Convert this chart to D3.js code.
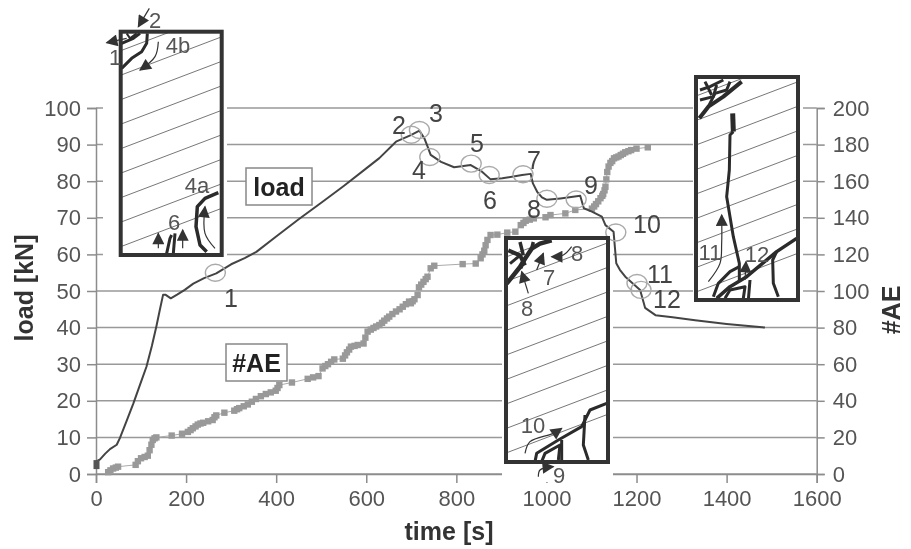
<!DOCTYPE html>
<html lang="en">
<head>
<meta charset="UTF-8">
<title>load and #AE over time</title>
<script src="https://d3js.org/d3.v7.min.js"></script>
<style>
  html, body { margin: 0; background: #fff; }
  svg { display: block; filter: blur(0.45px); font-family: "Liberation Sans", Arial, sans-serif; }
</style>
</head>
<body>
<svg id="chart" width="911" height="549"></svg>
<script>
// values
const loadTime = [0,3,9,20,31,46,53,68,83,98,112,124,134,142,149,154,166,180,197,216,240,267,300,330,356,400,450,500,550,600,629,666,699,718,729,736,743,766,795,832,857,876,902,946,965,970,980,990,1001,1031,1075,1083,1101,1123,1131,1149,1155,1163,1175,1208,1219,1242,1280,1330,1400,1485];
const loadValues = [3,3.6,4,5.5,6.8,8,9.8,14.5,19.3,24.5,29.3,35,40.3,45,49,49,48,49,50.3,52,53.5,54.8,57.3,59,60.7,64.9,69.6,74.1,78.7,83.5,86.3,90.8,92.6,93.8,91.7,89.5,87.2,85.3,83.8,84.4,82.6,80.5,80.8,81.7,82,79.4,77,75.6,74.9,75.3,76,72.6,71.7,70.3,68,66.2,57.6,55.8,53.9,50.3,45.4,43.4,42.8,42,41,40];

const aeTime = [27,32,38,44,49,88,93,100,108,115,119,123,126,130,134,168,191,204,210,215,221,226,232,238,249,259,263,267,285,307,313,318,328,337,346,355,366,377,388,399,403,407,435,470,482,494,503,509,515,522,529,548,553,557,562,566,574,581,594,598,603,610,616,622,629,635,640,646,651,658,666,674,681,688,695,699,703,707,714,717,722,727,732,736,743,751,814,843,854,858,862,865,869,876,891,913,931,943,949,954,963,972,998,1009,1042,1064,1101,1106,1110,1115,1120,1124,1126,1129,1131,1133,1135,1138,1142,1146,1150,1155,1160,1165,1170,1175,1182,1188,1200,1225];
const aeValues = [1,2,3,3.5,4,5,7,8.6,9.3,10,13,16,18.6,19.5,20,21,22,23,24,25,26,27,27.6,28,28.8,29.5,31,32,33.5,34.6,35.4,36,37,38,39.5,41,42.5,43.7,44.6,45.5,47,48.6,50,52,52.8,53.5,57.7,59,60,61.3,62.6,63,64.8,66.5,68,69.6,70,70.5,71.3,74.5,77.8,78.9,79.8,80.6,81.4,82.6,83.8,85,86,87.4,88.8,90,91.4,92.8,94.2,93.3,94.4,95.5,97.8,102,103.5,105,106.5,107.8,112.4,113.8,114.7,115,117.9,120,122,125,127.9,130.6,130.8,131.9,132.4,136,137.2,138.4,139,139.7,140.3,141.5,142.4,144.3,145,146.2,147.5,149,150.7,152,153,155,157,161,165,168,170,171,172.5,173,173.5,174.3,175,175.8,176.4,177,177.8,178.5,180,180.3];

const leftTicks = [0,10,20,30,40,50,60,70,80,90,100];
const rightTicks = [0,20,40,60,80,100,120,140,160,180,200];
const timeTicks = [0,200,400,600,800,1000,1200,1400,1600];

// circled events on the load curve: time, load
const eventTime = [265,700,718,741,833,873,948,1001,1066,1154,1201,1210];
const eventLoad = [55,92.7,94,86.6,84.8,81.7,81.9,75.2,75,66,52.2,50.3];

const svg = d3.select("#chart");
const x = d3.scaleLinear().domain([0, 1600]).range([96, 816.7]);
const yLeft = d3.scaleLinear().domain([0, 100]).range([474, 108]);
const yRight = d3.scaleLinear().domain([0, 200]).range([474, 108]);

const gray = "#8c8c8c", text = "#555", dark = "#333";

// gridlines
svg.append("g").selectAll("line").data(leftTicks).join("line")
  .attr("x1", x(0)).attr("x2", x(1600))
  .attr("y1", d => yLeft(d)).attr("y2", d => yLeft(d))
  .attr("stroke", "#999").attr("stroke-width", 1.5);

// axes
const axL = svg.append("g").attr("transform", `translate(${x(0)},0)`)
  .call(d3.axisLeft(yLeft).tickValues(leftTicks).tickSize(9).tickPadding(6));
const axR = svg.append("g").attr("transform", `translate(${x(1600)},0)`)
  .call(d3.axisRight(yRight).tickValues(rightTicks).tickSize(8).tickPadding(8));
const axB = svg.append("g").attr("transform", `translate(0,${yLeft(0)})`)
  .call(d3.axisBottom(x).tickValues(timeTicks).tickFormat(d3.format("d")).tickSize(9).tickPadding(7));
[axL, axR, axB].forEach(g => {
  g.selectAll(".domain").attr("stroke", gray).attr("stroke-width", 1.5);
  g.selectAll(".tick line").attr("stroke", gray).attr("stroke-width", 1.5);
  g.selectAll("text").attr("fill", text).attr("font-size", 22)
    .attr("font-family", "Liberation Sans, Arial, sans-serif");
});

// white panels behind the specimen sketches cut the gridlines
const panels = [[103, 22, 124, 241], [693, 70, 110, 237], [502, 232, 111, 250]];
svg.append("g").selectAll("rect").data(panels).join("rect")
  .attr("x", d => d[0]).attr("y", d => d[1]).attr("width", d => d[2]).attr("height", d => d[3])
  .attr("fill", "#fff");

// #AE series
const aePoints = aeTime.map((t, i) => [t, aeValues[i]]);
svg.append("path").datum(aePoints)
  .attr("fill", "none").attr("stroke", "#aaa").attr("stroke-width", 1)
  .attr("d", d3.line().x(d => x(d[0])).y(d => yRight(d[1])));
svg.append("g").selectAll("rect").data(aePoints).join("rect")
  .attr("x", d => x(d[0]) - 3.2).attr("y", d => yRight(d[1]) - 3.2)
  .attr("width", 6.4).attr("height", 6.4).attr("fill", "#999");

// load curve
const loadPoints = loadTime.map((t, i) => [t, loadValues[i]]);
svg.append("path").datum(loadPoints)
  .attr("fill", "none").attr("stroke", "#444").attr("stroke-width", 2).attr("stroke-linejoin", "round")
  .attr("d", d3.line().x(d => x(d[0])).y(d => yLeft(d[1])));
svg.append("rect").attr("x", x(0) - 2.5).attr("y", yLeft(3.8)).attr("width", 6).attr("height", 9).attr("fill", "#555");

// event circles
svg.append("g").selectAll("ellipse").data(eventTime).join("ellipse")
  .attr("cx", d => x(d))
  .attr("cy", (d, i) => yLeft(eventLoad[i]))
  .attr("rx", 10).attr("ry", 8.5)
  .attr("fill", "none").attr("stroke", "#aaa").attr("stroke-width", 1.4);

// arrowhead
svg.append("defs").append("marker").attr("id", "head")
  .attr("viewBox", "0 0 10 10").attr("refX", 9).attr("refY", 5)
  .attr("markerWidth", 14).attr("markerHeight", 12).attr("markerUnits", "userSpaceOnUse")
  .attr("orient", "auto")
  .append("path").attr("d", "M0,0L10,5L0,10Z").attr("fill", dark);

// sketches: coordinates are in 3x crop units from an origin
const sketchLine = d3.line().curve(d3.curveCatmullRom.alpha(0.5));
function sketch(ox, oy, rect, cracks, arrows) {
  const g = svg.append("g");
  const id = "clip" + ox;
  g.append("clipPath").attr("id", id).append("rect")
    .attr("x", rect[0]).attr("y", rect[1]).attr("width", rect[2]).attr("height", rect[3]);
  const hatch = g.append("g").attr("clip-path", `url(#${id})`);
  d3.range(9).forEach(i => {
    const yl = rect[1] + 19 + i * 24.5;
    hatch.append("line")
      .attr("x1", rect[0]).attr("x2", rect[0] + rect[2])
      .attr("y1", yl).attr("y2", yl - rect[2] * 0.38)
      .attr("stroke", "#777").attr("stroke-width", 1);
  });
  const toPage = p => p.map(d => [ox + d[0] / 3, oy + d[1] / 3]);
  cracks.forEach(c => {
    hatch.append("path")
      .attr("d", d3.line()(toPage(c.p)))
      .attr("fill", "none").attr("stroke", "#2b2b2b").attr("stroke-width", c.w).attr("stroke-linejoin", "round");
  });
  g.append("rect").attr("x", rect[0]).attr("y", rect[1]).attr("width", rect[2]).attr("height", rect[3])
    .attr("fill", "none").attr("stroke", dark).attr("stroke-width", 4);
  arrows.forEach(a => {
    g.append("path")
      .attr("d", sketchLine(toPage(a)))
      .attr("fill", "none").attr("stroke", dark).attr("stroke-width", 1.2)
      .attr("marker-end", "url(#head)");
  });
}

sketch(90, 0, [120.7, 31.7, 101, 223.3], [
  { w: 3, p: [[95,205],[125,175],[155,155],[170,130],[172,100]] },
  { w: 3, p: [[95,130],[130,115],[150,100]] },
  { w: 2, p: [[110,100],[120,115],[140,100]] },
  { w: 3.5, p: [[385,578],[345,595],[322,620],[318,680],[330,735],[350,755]] },
  { w: 3, p: [[230,760],[240,715],[245,705]] },
  { w: 3, p: [[250,760],[255,700]] }
], [
  [[110,115],[50,128]], [[178,25],[145,80]], [[205,125],[195,170],[150,210]],
  [[375,745],[345,700],[345,620]], [[205,745],[205,700]], [[278,745],[278,690]]
]);

sketch(680, 70, [696, 77, 102, 223], [
  { w: 4, p: [[58,145],[85,110],[130,80],[185,35]] },
  { w: 3, p: [[60,90],[100,80],[110,45]] },
  { w: 3, p: [[60,60],[90,50],[130,30]] },
  { w: 3, p: [[85,110],[105,70],[140,60],[150,35]] },
  { w: 3, p: [[75,35],[95,75]] },
  { w: 5, p: [[158,130],[160,185]] },
  { w: 3, p: [[160,185],[150,195],[148,300],[140,380],[160,500],[178,580],[178,635]] },
  { w: 3.5, p: [[350,505],[290,545],[200,620],[150,650],[110,685]] },
  { w: 3, p: [[290,545],[278,570],[280,640],[295,680]] },
  { w: 3, p: [[100,680],[115,640],[150,605],[178,590]] },
  { w: 3, p: [[135,685],[150,660],[195,650],[190,685]] },
  { w: 3, p: [[205,690],[210,630]] }
], [
  [[85,635],[120,580],[125,520],[125,435]], [[195,630],[198,575]]
]);

sketch(490, 225, [506, 238, 102, 224], [
  { w: 4.5, p: [[50,176],[90,126],[105,101],[125,71],[150,56],[185,46]] },
  { w: 4, p: [[55,76],[90,91],[105,121]] },
  { w: 3.5, p: [[90,51],[100,91]] },
  { w: 3.5, p: [[130,51],[125,71]] },
  { w: 3, p: [[60,116],[90,91]] },
  { w: 3.5, p: [[105,101],[92,130]] },
  { w: 3, p: [[350,535],[300,555],[275,605],[205,645],[140,685],[135,710]] },
  { w: 3, p: [[285,570],[280,660],[295,705]] },
  { w: 3, p: [[155,710],[165,685],[210,660],[205,705]] },
  { w: 3, p: [[215,705],[215,645]] }
], [
  [[115,205],[95,140]], [[140,135],[160,85]], [[245,65],[220,90],[185,95]],
  [[105,685],[120,650],[190,625],[215,610]], [[145,755],[150,735],[190,725]]
]);

// number labels
const numberLabels = ["1","2","3","4","5","6","7","8","9","10","11","12"];
const numberX = [231,399,436,419,477,490,534,534,591,647,660,667];
const numberY = [298,125,113,170,143,200,160,209,185,224,274,299];
svg.append("g").selectAll("text").data(numberLabels).join("text")
  .attr("x", (d, i) => numberX[i]).attr("y", (d, i) => numberY[i])
  .attr("text-anchor", "middle").attr("dominant-baseline", "central")
  .attr("font-size", 25).attr("fill", "#444").text(d => d);

const sketchLabels = ["1","2","4b","4a","6","11","12","8","7","8","10","9"];
const sketchX = [115,155,178,197,174,710,757,577,549,527,533,559];
const sketchY = [57,20,45,185,222,252,254,253,277,308,425,475];
svg.append("g").selectAll("text").data(sketchLabels).join("text")
  .attr("x", (d, i) => sketchX[i]).attr("y", (d, i) => sketchY[i])
  .attr("text-anchor", "middle").attr("dominant-baseline", "central")
  .attr("font-size", 22).attr("fill", "#555").text(d => d);

// boxed series names
function boxed(label, bx, by, bw, bh) {
  svg.append("rect").attr("x", bx).attr("y", by).attr("width", bw).attr("height", bh)
    .attr("fill", "#fff").attr("stroke", "#888").attr("stroke-width", 1.5);
  svg.append("text").attr("x", bx + bw / 2).attr("y", by + bh / 2)
    .attr("text-anchor", "middle").attr("dominant-baseline", "central")
    .attr("font-size", 25).attr("font-weight", "bold").attr("fill", "#222").text(label);
}
boxed("load", 246, 168, 66, 37);
boxed("#AE", 226, 344, 61, 37);

// axis titles
svg.append("text").attr("x", 449).attr("y", 540).attr("text-anchor", "middle")
  .attr("font-size", 25).attr("font-weight", "bold").attr("fill", "#333").text("time [s]");
svg.append("text").attr("transform", "translate(33,288) rotate(-90)").attr("text-anchor", "middle")
  .attr("font-size", 25).attr("font-weight", "bold").attr("fill", "#333").text("load [kN]");
svg.append("text").attr("transform", "translate(900,310) rotate(-90)").attr("text-anchor", "middle")
  .attr("font-size", 25).attr("font-weight", "bold").attr("fill", "#333").text("#AE");
</script>
</body>
</html>
